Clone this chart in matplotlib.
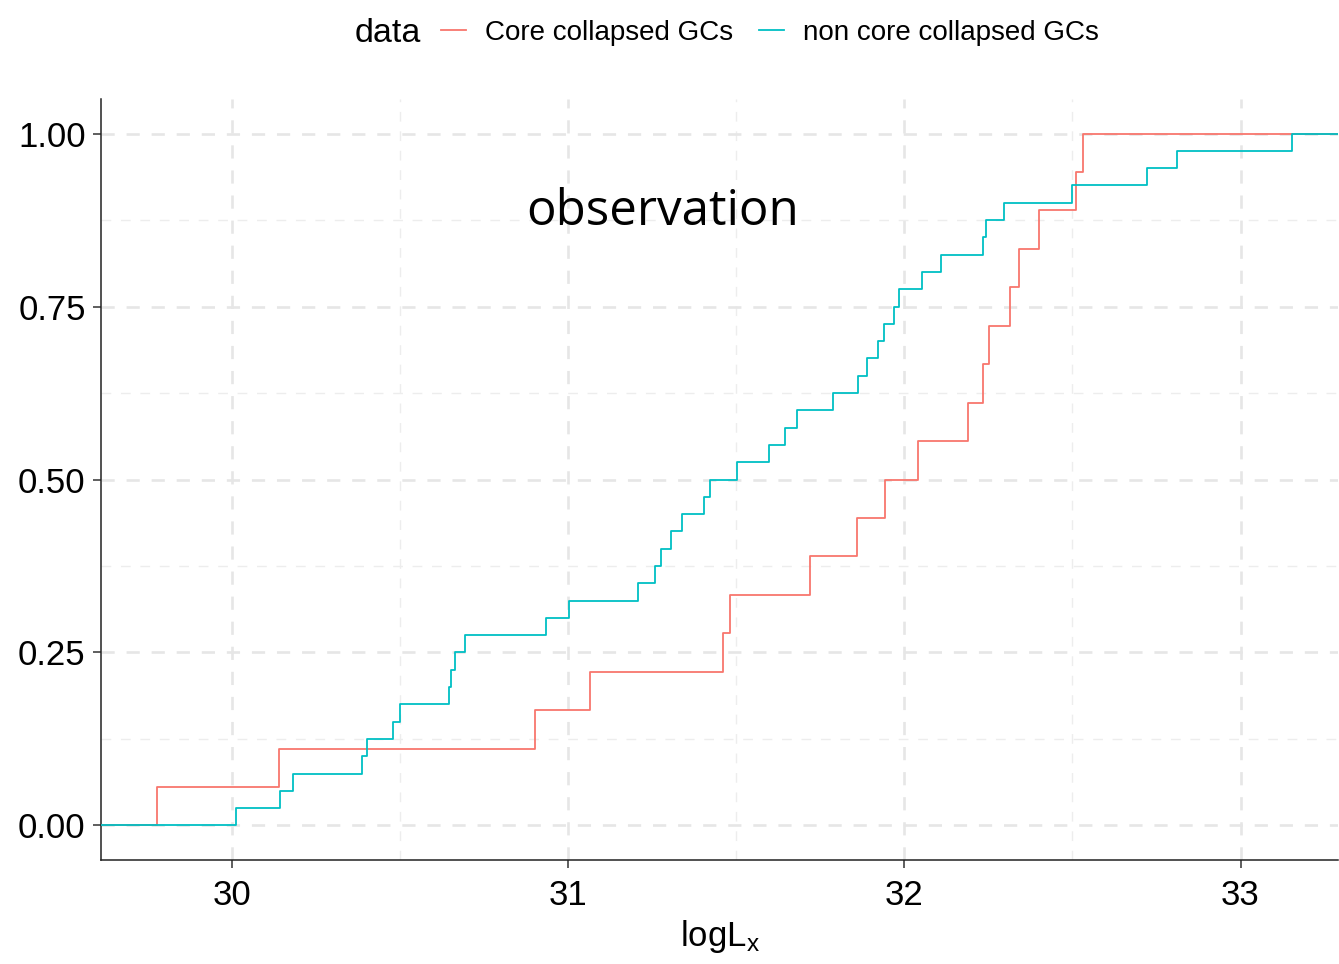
import matplotlib
matplotlib.use("Agg")
import matplotlib.pyplot as plt
import numpy as np
from matplotlib.lines import Line2D

# logLx values
core_collapsed = [29.777, 30.140, 30.900, 31.065, 31.460, 31.480, 31.720, 31.860,
                  31.943, 32.042, 32.190, 32.235, 32.253, 32.315, 32.340, 32.400,
                  32.510, 32.530]
non_core = [30.012, 30.143, 30.180, 30.387, 30.400, 30.480, 30.500, 30.646,
            30.652, 30.664, 30.693, 30.935, 31.003, 31.208, 31.259, 31.277,
            31.307, 31.339, 31.405, 31.423, 31.503, 31.598, 31.646, 31.682,
            31.789, 31.863, 31.890, 31.923, 31.938, 31.970, 31.985, 32.051,
            32.110, 32.235, 32.244, 32.295, 32.500, 32.723, 32.812, 33.152]

series_labels = ["Core collapsed GCs", "non core collapsed GCs"]
series_colors = ["#F8766D", "#00BFC4"]
x_ticks = [30, 31, 32, 33]
y_ticks = [0.0, 0.25, 0.50, 0.75, 1.00]
y_ticklabels = ["0.00", "0.25", "0.50", "0.75", "1.00"]

plt.rcParams["font.family"] = ["Liberation Sans", "DejaVu Sans"]
plt.rcParams["mathtext.fontset"] = "custom"
plt.rcParams["mathtext.rm"] = "Liberation Sans"
plt.rcParams["mathtext.it"] = "Liberation Sans"

fig = plt.figure(figsize=(13.39, 9.64), dpi=100)
ax = fig.add_axes([101 / 1339, 1 - 860 / 964, 1237 / 1339, 761 / 964])

xlo, xhi = 29.61, 33.29
ax.set_xlim(xlo, xhi)
ax.set_ylim(-0.05, 1.05)

# grid: ggplot-like dashed major + minor
for v in x_ticks:
    ax.axvline(v, color="#E6E6E6", lw=1.9, dashes=(5, 4.5), zorder=0)
for v in [30.5, 31.5, 32.5]:
    ax.axvline(v, color="#EDEDED", lw=1.0, dashes=(7, 7), zorder=0)
for v in y_ticks:
    ax.axhline(v, color="#E6E6E6", lw=1.9, dashes=(5, 4.5), zorder=0)
for v in [0.125, 0.375, 0.625, 0.875]:
    ax.axhline(v, color="#EDEDED", lw=1.0, dashes=(7, 7), zorder=0)

for vals, col in zip([core_collapsed, non_core], series_colors):
    xs = np.sort(np.array(vals))
    ys = np.arange(1, len(xs) + 1) / len(xs)
    xs = np.concatenate([[xlo], xs, [xhi]])
    ys = np.concatenate([[0.0], ys, [1.0]])
    ax.step(xs, ys, where="post", color=col, lw=1.3, zorder=3)

ax.text(31.28, 0.887, "observation", fontsize=35.5, family="Open Sans",
        ha="center", va="center", color="black")

for s in ["top", "right"]:
    ax.spines[s].set_visible(False)
for s in ["left", "bottom"]:
    ax.spines[s].set_color("#222222")
    ax.spines[s].set_linewidth(1.1)

ax.set_xticks(x_ticks)
ax.set_xticklabels([str(t) for t in x_ticks])
ax.set_yticks(y_ticks)
ax.set_yticklabels(y_ticklabels)
ax.tick_params(axis="both", labelsize=25, colors="#333333", labelcolor="black",
               length=6, width=1.1)
ax.tick_params(axis="x", pad=8)
ax.tick_params(axis="y", pad=5)
ax.set_xlabel("logL$_{\\mathrm{x}}$", fontsize=25, labelpad=4)

# legend on top, title drawn to the left of the keys
fig.text(388 / 1339, 1 - 33 / 964, "data", fontsize=24.5, ha="center", va="center")
handles = [Line2D([], [], color=c, lw=1.3) for c in series_colors]
fig.legend(handles, series_labels, loc="center left",
           bbox_to_anchor=(441 / 1339, 1 - 33 / 964), ncol=2, frameon=False,
           fontsize=20, handlelength=0.9, handletextpad=0.7,
           columnspacing=0.9, borderpad=0, borderaxespad=0)

fig.savefig("out.png", dpi=100)
